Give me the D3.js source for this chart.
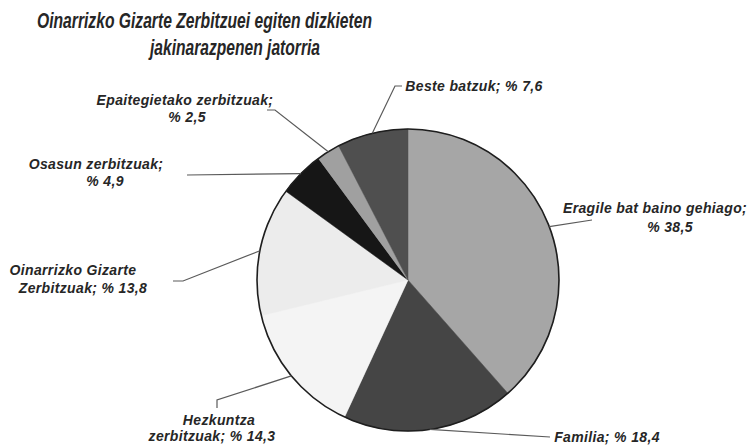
<!DOCTYPE html>
<html>
<head>
<meta charset="utf-8">
<script src="https://cdn.jsdelivr.net/npm/d3@7"></script>
<style>
  body { margin: 0; background: #fff; }
  svg { display: block; font-family: "Liberation Sans", Arial, sans-serif; }
  .lbl { font-size: 14px; font-weight: bold; font-style: italic; fill: #262626; letter-spacing: 0.35px; }
  .title { font-size: 22px; font-weight: bold; font-style: italic; fill: #262626; }
</style>
</head>
<body>
<svg></svg>
<script>
const W = 750, H = 447;

// data, clockwise from 12 o'clock
const names = [
  "Eragile bat baino gehiago",
  "Familia",
  "Hezkuntza zerbitzuak",
  "Oinarrizko Gizarte Zerbitzuak",
  "Osasun zerbitzuak",
  "Epaitegietako zerbitzuak",
  "Beste batzuk"
];
const values = [38.5, 18.4, 14.3, 13.8, 4.9, 2.5, 7.6];
const fills = ["#a6a6a6", "#454545", "#f4f4f4", "#ececec", "#161616", "#a0a0a0", "#4f4f4f"];
const titleLines = ["Oinarrizko Gizarte Zerbitzuei egiten dizkieten", "jakinarazpenen jatorria"];

// label layout: words on first line, line centres/baselines, leader points (label side)
const layout = [
  { brk: 4, lines: [[655, 213], [670, 232]], lead: [[592, 220]] },
  { brk: 0, lines: [[607, 442]], lead: [[550, 437]] },
  { brk: 1, lines: [[219, 425], [212, 441]], lead: [[217, 408], [217, 400]] },
  { brk: 2, lines: [[73, 275], [83, 293]], lead: [[173, 281], [183, 281]] },
  { brk: 2, lines: [[96, 169], [105, 186]], lead: [[187, 175]] },
  { brk: 2, lines: [[185, 105], [187, 122]], lead: [[267, 110], [275, 110]] },
  { brk: 0, lines: [[474, 91]], lead: [[402, 86], [395, 86]] }
];

const cx = 408, cy = 280, r = 151;
const f = d3.format(".1f");

const svg = d3.select("svg").attr("width", W).attr("height", H);

// title
svg.append("text").attr("class", "title")
  .attr("x", 37).attr("y", 28)
  .attr("textLength", 335).attr("lengthAdjust", "spacingAndGlyphs")
  .text(titleLines[0]);
svg.append("text").attr("class", "title")
  .attr("x", 150).attr("y", 55)
  .attr("textLength", 170).attr("lengthAdjust", "spacingAndGlyphs")
  .text(titleLines[1]);

const pie = d3.pie().sort(null).value(d => d);
const arcs = pie(values);
const arc = d3.arc().innerRadius(0).outerRadius(r);
const edge = d3.arc().innerRadius(r).outerRadius(r);

const g = svg.append("g").attr("transform", "translate(" + cx + "," + cy + ")");

g.selectAll("path.slice")
  .data(arcs)
  .enter()
  .append("path")
  .attr("class", "slice")
  .attr("d", arc)
  .attr("fill", (d, i) => fills[i])
  .attr("stroke", (d, i) => fills[i])
  .attr("stroke-width", 0.5);

// outer outline
g.append("circle").attr("r", r)
  .attr("fill", "none").attr("stroke", "#1e1e1e").attr("stroke-width", 1.6);

// leader lines
const line = d3.line();
arcs.forEach((d, i) => {
  const c = edge.centroid(d);
  const pts = layout[i].lead.map(p => p.slice());
  pts.push([c[0] + cx, c[1] + cy]);
  svg.append("path")
    .attr("d", line(pts))
    .attr("fill", "none")
    .attr("stroke", "#5a5a5a")
    .attr("stroke-width", 1.2);
});

// labels
arcs.forEach((d, i) => {
  const full = names[i] + "; % " + f(values[i]).replace(".", ",");
  const words = full.split(" ");
  const L = layout[i];
  const parts = L.brk ? [words.slice(0, L.brk).join(" "), words.slice(L.brk).join(" ")] : [full];
  parts.forEach((t, j) => {
    svg.append("text").attr("class", "lbl")
      .attr("x", L.lines[j][0]).attr("y", L.lines[j][1])
      .attr("text-anchor", "middle")
      .text(t);
  });
});
</script>
</body>
</html>
